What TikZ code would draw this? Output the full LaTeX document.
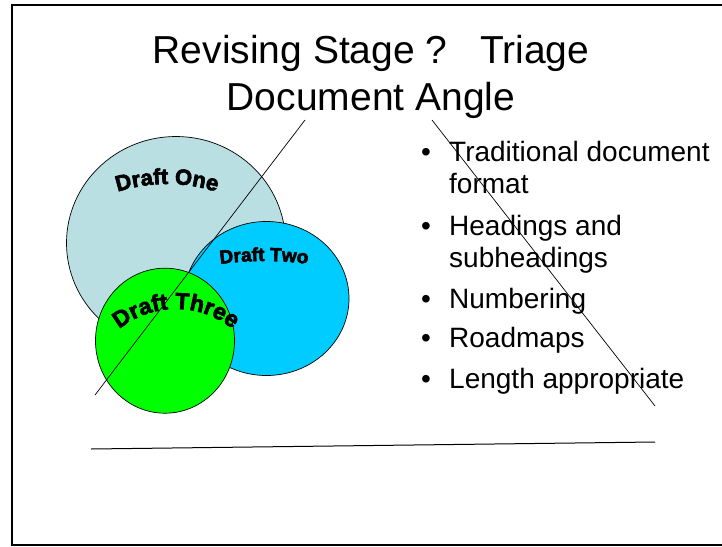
\documentclass[tikz,border=0pt]{standalone}
\usepackage{fontspec}
\setmainfont{Liberation Sans}
\newfontfamily\wordartfamily[BoldFeatures={FakeBold=3}]{Liberation Sans}
\usetikzlibrary{positioning}
\usetikzlibrary{shapes.geometric}
\usetikzlibrary{decorations.text}
\definecolor{paleteal}{RGB}{186,223,227}
\definecolor{skycyan}{RGB}{0,204,255}
\definecolor{brightgreen}{RGB}{0,255,0}
\newcommand{\draftone}{\wordartfamily\bfseries\fontsize{22}{22}\selectfont}
\newcommand{\drafttwo}{\wordartfamily\bfseries\fontsize{19}{19}\selectfont}
\newcommand{\draftthree}{\wordartfamily\bfseries\fontsize{23}{23}\selectfont}
\tikzset{
	draft/.style={
		ellipse,
		draw=black, line width=0.7pt,
		inner sep=0pt},
	arctext/.style={
		decorate,
		decoration={text along path, text align=center, text={#1}}},
	heading/.style={
		anchor=base,
		align=center,
		inner sep=0pt,
		font=\fontsize{39}{46.5}\selectfont},
	bulletitem/.style={
		anchor=base west,
		align=left,
		inner sep=0pt,
		font=\fontsize{28}{32}\selectfont},
	itemdot/.style={
		anchor=base,
		inner sep=0pt,
		font=\fontsize{28}{32}\selectfont},
	crossline/.style={draw, line width=0.7pt},
}

\begin{document}
\begin{tikzpicture}[x=1pt, y=1pt]
	\useasboundingbox (0,0) rectangle (722,-546);
	% slide frame
	\draw[line width=1.4pt] (12,-546) -- (12,-5) -- (723,-5);
	\draw[line width=1.4pt] (12,-544.8) -- (723,-544.8);

	% base of a two line node is its last line
	\node[heading] (title) at (371,-110) {Revising Stage ?~~~Triage\\Document Angle};

	% the three drafts
	\node[draft, fill=paleteal, minimum width=219pt, minimum height=213pt] (one) at (176,-243) {};
	\path[arctext={|\draftone|Draft One}] (167,-344) ++(120:160pt) arc[start angle=120, end angle=60, radius=160pt];
	\node[draft, fill=skycyan, minimum width=165pt, minimum height=154pt] (two) at (266.5,-298.5) {};
	\path[arctext={|\drafttwo|Draft Two}] (264,-581) ++(105:320pt) arc[start angle=105, end angle=75, radius=320pt];
	\node[draft, fill=brightgreen, minimum width=139pt, minimum height=145pt] (three) at (165,-340.7) {};
	\path[arctext={|\draftthree|Draft Three}] (176,-399) ++(150:90pt) arc[start angle=150, end angle=30, radius=90pt];

	% bullet list
	\node[bulletitem] (traditional) at (449,-193) {Traditional document\\format};
	\node[bulletitem] (headings) at (449,-267) {Headings and\\subheadings};
	\node[bulletitem] (numbering) at (449,-308) {Numbering};
	\node[bulletitem] (roadmaps) at (449,-347) {Roadmaps};
	\node[bulletitem] (length) at (449,-388) {Length appropriate};
	\node[itemdot] (dot1) at ([xshift=-23pt, yshift=32pt]traditional.base west) {\textbullet};
	\node[itemdot] (dot2) at ([xshift=-23pt, yshift=32pt]headings.base west) {\textbullet};
	\node[itemdot] (dot3) at ([xshift=-23pt]numbering.base west) {\textbullet};
	\node[itemdot] (dot4) at ([xshift=-23pt]roadmaps.base west) {\textbullet};
	\node[itemdot] (dot5) at ([xshift=-23pt]length.base west) {\textbullet};

	% the angle lines
	\coordinate (lefttop) at (305,-120);
	\coordinate (leftfoot) at (95,-395);
	\coordinate (righttop) at (432,-120);
	\coordinate (rightfoot) at (655,-406);
	\coordinate (baseleft) at (91,-449);
	\coordinate (baseright) at (655,-442);
	\path[crossline] (lefttop) -- (leftfoot);
	\path[crossline] (righttop) -- (rightfoot);
	\path[crossline, line width=1pt] (baseleft) -- (baseright);
\end{tikzpicture}
\end{document}
